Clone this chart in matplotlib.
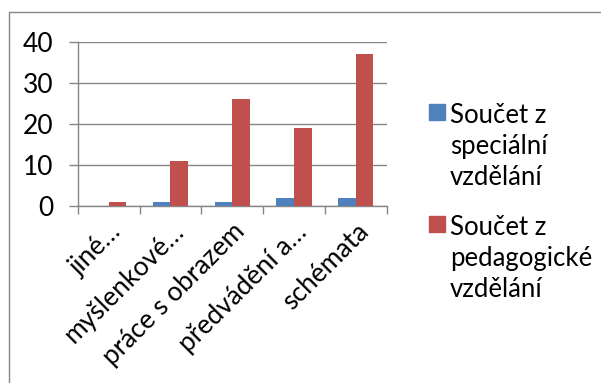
import numpy as np
import matplotlib
matplotlib.use("Agg")
import matplotlib.pyplot as plt
from matplotlib.lines import Line2D
from matplotlib.patches import Rectangle
import matplotlib.transforms as mtransforms

plt.rcParams['font.family'] = ['Lato', 'DejaVu Sans']

# data
categories = ["jiné…", "myšlenkové…", "práce s obrazem", "předvádění a…", "schémata"]
specialni = [0, 1, 1, 2, 2]
pedagogicke = [1, 11, 26, 19, 37]
series_labels = ["Součet z\nspeciální\nvzdělání", "Součet z\npedagogické\nvzdělání"]
series_colors = ["#4F81BD", "#C0504D"]

W, H = 601, 383
fig = plt.figure(figsize=(W / 100, H / 100), dpi=100)
ax = fig.add_axes([77.7 / W, 1 - 205.7 / H, (386.7 - 77.7) / W, (205.7 - 41.7) / H])

x = np.arange(len(categories))
width = 0.286
ax.bar(x - width / 2, specialni, width, color=series_colors[0], zorder=3)
ax.bar(x + width / 2, pedagogicke, width, color=series_colors[1], zorder=3)

grey = "#868686"
ax.set_xlim(-0.5, len(categories) - 0.5)
ax.set_ylim(0, 40)
ax.set_yticks(np.arange(0, 41, 10))
ax.yaxis.grid(True, color=grey, linewidth=1)
ax.set_axisbelow(True)
for side in ["top", "right"]:
    ax.spines[side].set_visible(False)
for side in ["left", "bottom"]:
    ax.spines[side].set_color(grey)
    ax.spines[side].set_linewidth(1)

ax.tick_params(axis="y", length=6.5, color=grey, width=1, pad=11, labelsize=19)

# boundary ticks between categories, labels at centres
ax.set_xticks(np.arange(-0.5, len(categories), 1))
ax.set_xticklabels([])
ax.tick_params(axis="x", which="major", length=5.5, color=grey, width=1)
ax.set_xticks(x, minor=True)
ax.set_xticklabels(categories, minor=True, rotation=45, ha="right", va="center",
                   rotation_mode="anchor", fontsize=19)
ax.tick_params(axis="x", which="minor", length=0, pad=16)
offset = mtransforms.ScaledTranslation(9 / 100, 0, fig.dpi_scale_trans)
for lbl in ax.get_xticklabels(minor=True):
    lbl.set_transform(lbl.get_transform() + offset)

# legend
for i, (lab, col) in enumerate(zip(series_labels, series_colors)):
    top = 104 + i * 112
    fig.add_artist(Rectangle((429 / W, 1 - (top + 16) / H), 16 / W, 16 / H,
                             transform=fig.transFigure, color=col))
    fig.text(450 / W, 1 - (top - 1) / H, lab, ha="left", va="top",
             fontsize=18.5, linespacing=1.3)

# chart border
fig.add_artist(Line2D([8.5 / W, 8.5 / W, 1.0], [0.0, 1 - 11.5 / H, 1 - 11.5 / H],
                      transform=fig.transFigure, color=grey, linewidth=1))

fig.savefig("out.png", dpi=100)
